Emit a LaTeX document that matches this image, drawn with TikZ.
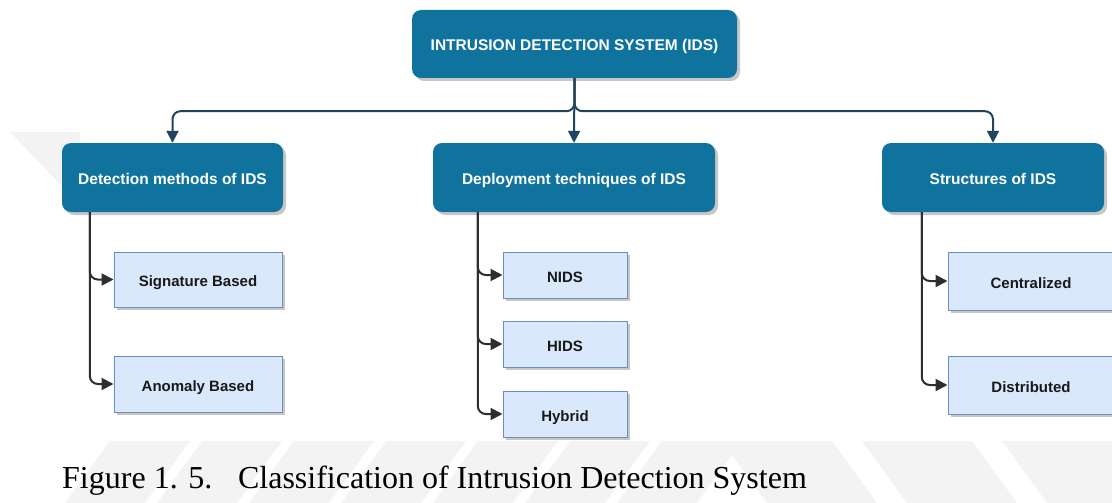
\documentclass[tikz,border=0pt]{standalone}
\usepackage{fontspec}
\setmainfont{Liberation Serif}
\setsansfont{Liberation Sans}
\usetikzlibrary{arrows.meta,shadows}

\definecolor{headfill}{HTML}{10739E}
\definecolor{headline}{HTML}{23445D}
\definecolor{leaffill}{HTML}{DAE8FC}
\definecolor{leafedge}{HTML}{6C8EBF}
\definecolor{leafline}{HTML}{2E2E2E}
\definecolor{wmark}{HTML}{F3F3F3}

\tikzset{
  boxshadow/.style={drop shadow={shadow xshift=3pt,shadow yshift=-3pt,fill=black,opacity=0.22}},
  headbox/.style={rectangle, rounded corners=9pt, fill=headfill, draw=none,
    text=white, inner sep=0pt, boxshadow, text height=14pt, text depth=0pt,
    font=\sffamily\bfseries\fontsize{15.5}{18}\selectfont},
  leafbox/.style={rectangle, fill=leaffill, draw=leafedge, line width=1pt,
    text=black!90, inner sep=0pt, boxshadow, text height=14pt, text depth=0pt,
    font=\sffamily\bfseries\fontsize{15}{18}\selectfont},
  mainlink/.style={draw=headline, line width=2pt, rounded corners=8pt,
    -{Triangle[length=12pt,width=12pt]}},
  sublink/.style={draw=leafline, line width=2pt, rounded corners=8pt,
    -{Triangle[length=12pt,width=12pt]}},
  wstripe/.style={fill=wmark, draw=none}
}

\begin{document}
\begin{tikzpicture}[x=1pt,y=-1pt]
\useasboundingbox (0,0) rectangle (1112,503);
\clip (0,0) rectangle (1112,503);

% faint diagonal watermark bands
\foreach \xb in {65,157,249,341,433,525,617}{
  \fill[wstripe] (\xb,503) -- ++(80,0) -- ++(45,-62) -- ++(-80,0) -- cycle;
}
\foreach \xt in {722,862,1002}{
  \fill[wstripe] (\xt,441) -- ++(110,0) -- ++(45,62) -- ++(-110,0) -- cycle;
}
\fill[wstripe] (10,132) -- (80,132) -- (80,205) -- cycle;

% root
\node[headbox, minimum width=325pt, minimum height=68pt] (root) at (574.5,44)
  {INTRUSION DETECTION SYSTEM (IDS)};

% categories
\node[headbox, minimum width=221pt, minimum height=69pt] (det) at (172.5,177.5)
  {Detection methods of IDS};
\node[headbox, minimum width=282pt, minimum height=69pt] (dep) at (574,177.5)
  {Deployment techniques of IDS};
\node[headbox, minimum width=222pt, minimum height=69pt] (str) at (993,177.5)
  {Structures of IDS};

% leaves
\node[leafbox, minimum width=168pt, minimum height=55pt] (sig) at (198,279.5) {Signature Based};
\node[leafbox, minimum width=168pt, minimum height=56pt] (ano) at (198,384) {Anomaly Based};
\node[leafbox, minimum width=124pt, minimum height=46pt] (nids) at (565,275) {NIDS};
\node[leafbox, minimum width=124pt, minimum height=46pt] (hids) at (565,344) {HIDS};
\node[leafbox, minimum width=124pt, minimum height=46pt] (hyb) at (565,414) {Hybrid};
\node[leafbox, minimum width=166pt, minimum height=58pt] (cen) at (1031,281) {Centralized};
\node[leafbox, minimum width=166pt, minimum height=58pt] (dis) at (1031,385) {Distributed};

% root to categories
\draw[mainlink] (root.south) -- ++(0,33) -| (det.north);
\draw[mainlink] (root.south) -- (dep.north);
\draw[mainlink] (root.south) -- ++(0,33) -| (str.north);

% category to leaves
\coordinate (detfoot) at ([xshift=28pt]det.south west);
\coordinate (depfoot) at ([xshift=45pt]dep.south west);
\coordinate (strfoot) at ([xshift=40pt]str.south west);
\draw[sublink] (detfoot) |- (sig.west);
\draw[sublink] (detfoot) |- (ano.west);
\draw[sublink] (depfoot) |- (nids.west);
\draw[sublink] (depfoot) |- (hids.west);
\draw[sublink] (depfoot) |- (hyb.west);
\draw[sublink] (strfoot) |- (cen.west);
\draw[sublink] (strfoot) |- (dis.west);

% caption
\node[anchor=base west, inner sep=0pt, font=\rmfamily\fontsize{32}{38}\selectfont] (cap) at (62,488)
  {Figure 1. 5.\hspace{15pt} Classification of Intrusion Detection System};
\end{tikzpicture}
\end{document}
